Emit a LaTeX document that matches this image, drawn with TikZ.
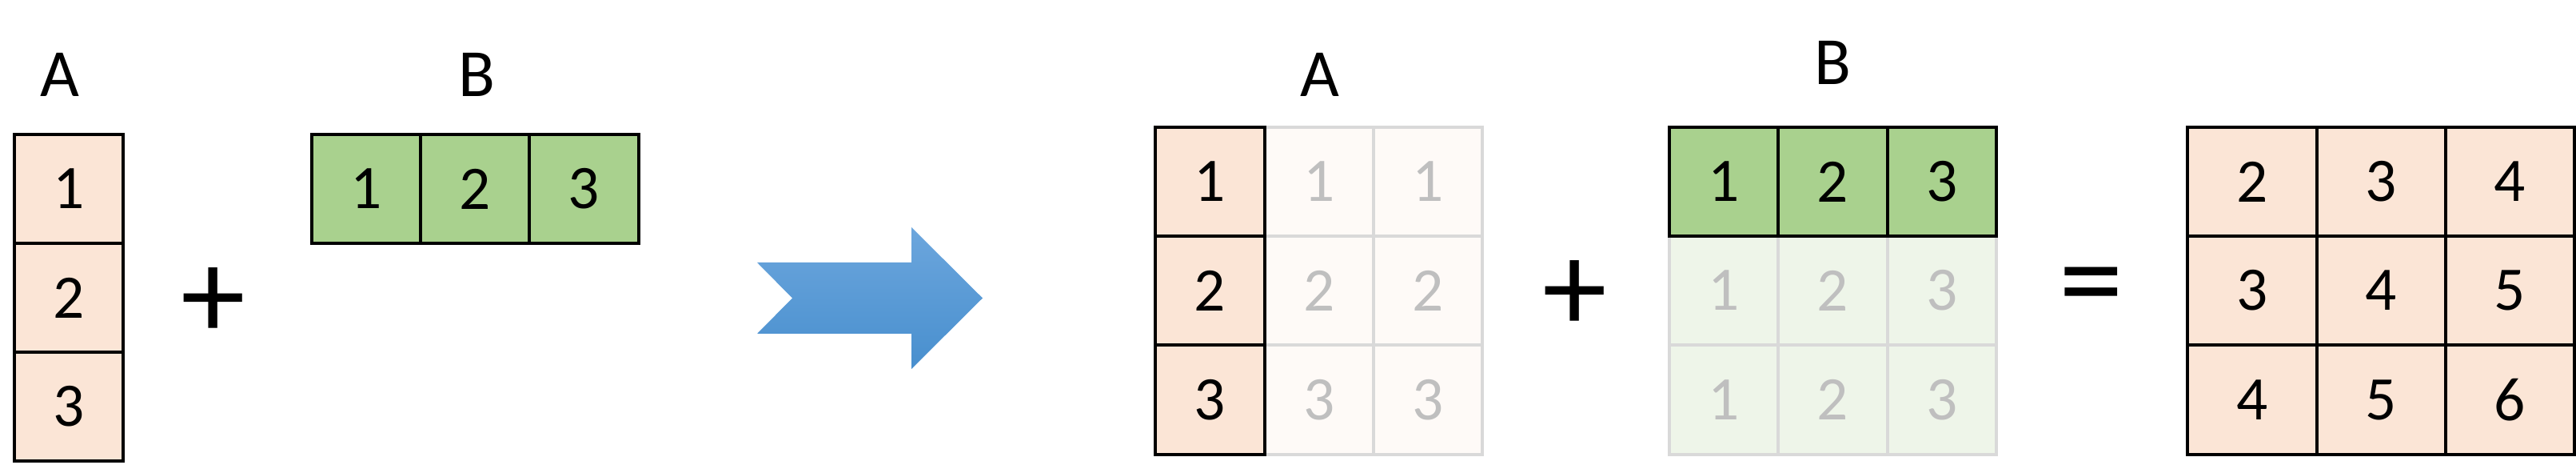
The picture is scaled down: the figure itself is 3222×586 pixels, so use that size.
\documentclass[tikz,border=0pt]{standalone}
\usepackage{fontspec}
\setmainfont{Carlito}
\definecolor{pinkfill}{RGB}{251,229,214}
\definecolor{greenfill}{RGB}{169,209,142}
\definecolor{fadepink}{RGB}{254,250,247}
\definecolor{fadegreen}{RGB}{238,245,233}
\definecolor{fadeline}{RGB}{217,217,217}
\definecolor{fadetext}{RGB}{191,191,191}
\definecolor{arrowtop}{RGB}{108,166,221}
\definecolor{arrowbot}{RGB}{72,143,206}
\begin{document}
\begin{tikzpicture}[x=0.01cm,y=-0.01cm,
  cellbase/.style={draw, line width=0.04cm, minimum height=1.36cm, minimum width=1.36cm, inner sep=0pt, font=\fontsize{22}{26}\selectfont},
  pinkcell/.style={cellbase, draw=black, fill=pinkfill},
  greencell/.style={cellbase, draw=black, fill=greenfill},
  fpinkcell/.style={cellbase, draw=fadeline, fill=fadepink, text=fadetext},
  fgreencell/.style={cellbase, draw=fadeline, fill=fadegreen, text=fadetext},
  rescell/.style={pinkcell, minimum width=1.615cm},
  lbl/.style={inner sep=0pt, font=\fontsize{24}{28}\selectfont},
  opsym/.style={inner sep=0pt, font=\fontsize{46}{50}\selectfont}
]
\useasboundingbox (0,0) rectangle (3222,586);

% left A column
\node[lbl] (lA) at (75,93) {A};
\node[pinkcell] (a1) at (86,236) {1};
\node[pinkcell] (a2) at (86,372) {2};
\node[pinkcell] (a3) at (86,508) {3};

\node[opsym] (plus1) at (267,379) {+};

% left B row
\node[lbl] (lB) at (596,93) {B};
\node[greencell] (b1) at (458.5,236) {1};
\node[greencell] (b2) at (594.5,236) {2};
\node[greencell] (b3) at (730.5,236) {3};

% arrow
\path[top color=arrowtop, bottom color=arrowbot]
  (947,328) -- (1140,328) -- (1140,284) -- (1229,372.5) -- (1140,461)
  -- (1140,417) -- (947,417) -- (991,372.5) -- cycle;

% middle A (broadcast)
\node[lbl] (mA) at (1651,93) {A};
\foreach \r/\y in {1/227,2/363,3/499.5}{
  \node[fpinkcell] (ma\r2) at (1650,\y) {\r};
  \node[fpinkcell] (ma\r3) at (1786,\y) {\r};
}
\foreach \r/\y in {1/227,2/363,3/499.5}{
  \node[pinkcell] (ma\r1) at (1513.5,\y) {\r};
}

\node[opsym] (plus2) at (1970,370) {+};

% middle B (broadcast)
\node[lbl] (mB) at (2292.5,78.5) {B};
\foreach \r/\y in {2/363,3/499.5}{
  \node[fgreencell] (mb\r1) at (2156,\y) {1};
  \node[fgreencell] (mb\r2) at (2292.5,\y) {2};
  \node[fgreencell] (mb\r3) at (2429,\y) {3};
}
\node[greencell] (mb11) at (2156,227) {1};
\node[greencell] (mb12) at (2292.5,227) {2};
\node[greencell] (mb13) at (2429,227) {3};

\node[opsym] (eq) at (2616,369) {=};

% result
\node[rescell] (r11) at (2817,227) {2};
\node[rescell] (r12) at (2978.5,227) {3};
\node[rescell] (r13) at (3139.5,227) {4};
\node[rescell] (r21) at (2817,363) {3};
\node[rescell] (r22) at (2978.5,363) {4};
\node[rescell] (r23) at (3139.5,363) {5};
\node[rescell] (r31) at (2817,499.5) {4};
\node[rescell] (r32) at (2978.5,499.5) {5};
\node[rescell] (r33) at (3139.5,499.5) {6};
\end{tikzpicture}
\end{document}
